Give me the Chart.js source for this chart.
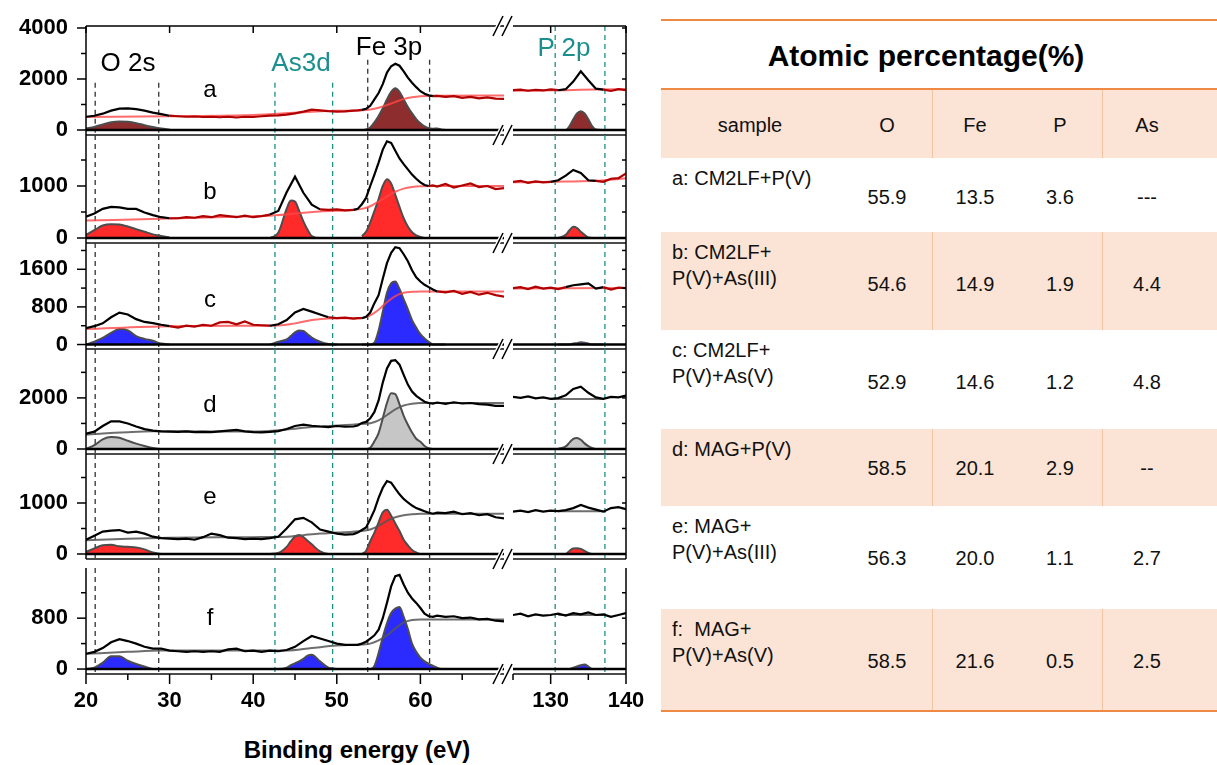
<!DOCTYPE html>
<html>
<head>
<meta charset="utf-8">
<script src="https://cdn.jsdelivr.net/npm/chart.js@4.4.1/dist/chart.umd.min.js"></script>
<style>
  body { margin: 0; background: #fff; width: 1217px; height: 765px; overflow: hidden; position: relative;
         font-family: 'Liberation Sans', Arial, sans-serif; color: #000; }
  canvas { position: absolute; }
  .lbl { position: absolute; transform: translate(-50%, -50%); line-height: 1; white-space: pre; }
  .box { position: absolute; }
  .cell { position: absolute; line-height: 1; white-space: pre; font-size: 20px; color: #111; }
</style>
</head>
<body>
<script>
// ---- data ----
const X_LEFT = [20,21,22,23,24,25,26,27,28,29,30,31,32,33,34,35,36,37,38,39,40,41,42,43,44,45,46,47,48,49,50,51,52,
  52.5,53,53.5,54,54.5,55,55.5,56,56.5,57,57.5,58,58.5,59,59.5,60,60.5,61,61.5,62,
  63,64,65,66,67,68,69,70];
const X_RIGHT = [125,126,127,128,129,130,131,132,133,134,135,136,137,138,139,140];

// raw spectra (counts)
const RAW_A = [520,560,640,760,840,850,820,760,680,620,560,540,520,530,510,520,500,520,490,520,510,540,560,570,600,650,720,800,770,740,720,730,760,
  770,790,830,950,1200,1450,1800,2250,2500,2600,2520,2300,2050,1850,1680,1520,1420,1360,1330,1340,
  1300,1330,1260,1300,1240,1280,1230,1220];
const RAW_B = [410,470,560,600,590,560,560,490,440,400,380,380,400,390,420,400,440,420,400,430,400,420,450,520,880,1180,870,640,550,540,550,530,540,
  560,650,770,1000,1220,1450,1700,1860,1830,1680,1530,1420,1320,1220,1140,1070,1020,1000,1010,990,
  1040,970,1010,1050,980,1000,940,960];
const RAW_C = [350,390,450,580,680,640,540,480,455,420,390,360,400,380,420,400,470,480,430,490,420,410,400,430,520,680,755,700,640,580,560,570,550,
  560,560,590,680,880,1050,1400,1730,1950,2070,2050,1920,1770,1580,1430,1340,1270,1220,1170,1130,
  1110,1140,1080,1120,1060,1100,1050,1020];
const RAW_D = [600,680,900,1080,1080,1000,880,780,720,690,680,670,690,660,670,660,690,720,750,690,660,650,670,700,780,900,950,910,880,860,900,870,880,
  920,1020,1060,1200,1450,1900,2600,3150,3450,3480,3300,2900,2520,2250,2080,1960,1850,1800,1780,1820,
  1770,1830,1780,1800,1760,1740,1690,1690];
const RAW_E = [280,360,440,460,470,420,440,400,340,310,300,290,300,280,330,400,370,320,310,290,300,290,310,340,500,680,710,620,480,440,400,380,390,
  420,470,520,680,860,1100,1300,1430,1400,1280,1170,1080,1010,950,900,870,840,810,790,810,
  800,830,780,800,760,780,720,700];
const RAW_F = [240,270,330,420,470,440,400,350,320,320,290,280,270,280,270,280,270,310,320,280,290,270,290,280,300,350,440,520,480,440,400,380,380,
  380,400,430,480,530,620,800,1040,1300,1460,1480,1330,1200,1110,1040,960,870,830,820,840,
  820,830,800,810,780,790,760,750];

const RAW_A_P = [1560,1580,1540,1570,1550,1590,1560,1600,1900,2300,1950,1620,1580,1530,1600,1560];
const RAW_B_P = [1080,1100,1060,1090,1070,1080,1110,1200,1310,1250,1110,1100,1080,1140,1150,1240];
const RAW_C_P = [1200,1220,1180,1230,1190,1210,1180,1220,1260,1280,1300,1190,1220,1170,1210,1200];
const RAW_D_P = [2040,2000,2060,1980,2020,1960,1990,2100,2350,2440,2200,2020,1960,2040,2020,2090];
const RAW_E_P = [830,850,820,860,830,850,840,860,900,960,910,870,830,900,920,880];
const RAW_F_P = [850,870,830,860,840,850,870,840,880,860,890,850,860,820,850,880];

// Shirley backgrounds
const BG_A_X = [20,30,40,46,50,53,54,55,56,57,58,59,60,62,70];
const BG_A   = [510,540,590,700,750,770,800,870,980,1100,1210,1280,1320,1340,1350];
const BG_B_X = [20,30,40,42,48,52,53,54,55,56,57,58,59,60,62,70];
const BG_B   = [335,375,420,430,510,540,560,610,700,800,890,950,980,995,1000,1000];
const BG_C_X = [20,30,40,43,45,47,49,53,54,55,56,57,58,59,60,62,70];
const BG_C   = [330,390,400,405,450,520,555,565,620,740,900,1030,1100,1120,1128,1130,1130];
const BG_D_X = [20,22,25,28,30,40,44,47,53,54,55,56,57,58,59,60,61,70];
const BG_D   = [560,610,660,690,690,680,760,860,980,1010,1120,1330,1550,1700,1770,1800,1800,1800];
const BG_E_X = [20,25,30,40,44,46,48,50,53,54,55,56,57,58,59,60,62,70];
const BG_E   = [270,300,320,330,340,370,400,420,450,480,550,650,720,760,780,790,790,790];
const BG_F_X = [20,25,29,44,47,50,53,54,55,56,57,58,59,60,62,70];
const BG_F   = [240,270,290,290,330,370,385,400,450,530,640,730,770,780,780,780];

const BG_A_P_X = [125,132,136,140]; const BG_A_P = [1540,1560,1590,1600];
const BG_B_P_X = [125,132,136,140]; const BG_B_P = [1070,1085,1100,1150];
const BG_C_P_X = [125,140];         const BG_C_P = [1190,1200];
const BG_D_P_X = [130,137];         const BG_D_P = [1960,1960];
const BG_E_P_X = [131,137];         const BG_E_P = [840,840];
const BG_F_P_X = [131,137];         const BG_F_P = [850,850];

// fitted components
const X_O2S  = [20,21,22,23,24,25,26,27,28,29,30];
const X_AS3D = [42,43,44,44.5,45,45.5,46,46.5,47,48,49,50];
const X_FE3P = [53,53.5,54,54.5,55,55.5,56,56.5,57,57.5,58,58.5,59,59.5,60,60.5,61,61.5,62,62.5,63];
const X_P2P  = [131,132,132.5,133,133.5,134,134.5,135,135.5,136,137];

const O2S_A = [60,120,220,300,330,320,270,190,120,60,20];
const O2S_B = [60,150,240,265,260,220,170,120,70,40,10];
const O2S_C = [0,60,140,250,330,300,180,120,80,20,0];
const O2S_D = [0,150,380,470,440,320,210,120,40,0,0];
const O2S_E = [40,110,170,180,150,140,130,90,30,0,0];
const O2S_F = [0,20,100,200,200,130,80,40,0,0,0];

const AS3D_B = [0,100,560,720,700,520,320,160,40,0,0,0];
const AS3D_C = [0,60,110,180,260,300,290,220,150,60,10,0];
const AS3D_E = [0,20,140,250,340,375,330,260,190,50,0,0];
const AS3D_F = [0,0,20,60,90,120,160,210,225,120,20,0];

const FE3P_A = [0,20,100,300,550,850,1200,1500,1640,1500,1200,900,650,430,260,140,70,50,60,20,0];
const FE3P_B = [40,120,300,520,750,1000,1130,1050,830,600,380,220,110,50,20,0,0,0,0,0,0];
const FE3P_C = [0,0,0,40,300,700,1100,1300,1340,1180,960,750,520,360,220,130,60,0,0,0,0];
const FE3P_D = [0,0,50,300,620,1200,1800,2180,2150,1750,1300,950,650,400,280,120,30,0,0,0,0];
const FE3P_E = [0,60,250,420,620,820,870,750,600,450,280,170,80,30,0,0,0,0,0,0,0];
const FE3P_F = [0,0,0,50,250,500,720,880,950,975,820,630,400,270,180,120,80,50,20,0,0];

const P2P_A = [0,0,150,420,650,740,650,420,150,20,0];
const P2P_B = [0,60,150,215,190,120,60,10,0,0,0];
const P2P_C = [0,0,0,20,30,50,40,20,0,0,0];
const P2P_D = [0,100,250,400,430,360,220,110,40,0,0];
const P2P_E = [0,0,60,110,115,100,60,20,0,0,0];
const P2P_F = [0,0,0,20,40,60,70,40,0,0,0];

// where the fitted envelope (black) is drawn over the raw data (a-c)
const ENV_A = [[20,30],[53,61.5],[131.5,136.5]];
const ENV_B = [[20,29.5],[42,48],[52,61],[130,135.5]];
const ENV_C = [[20,29.5],[42.5,48.5],[53,62],[132,136.5]];

// axes
const Y_MIN = [-196,-96,-95,-196,-98,-78];
const Y_MAX = [4078,1981,2159,3914,1961,1589];
const Y_MAJOR = [[0,2000,4000],[0,1000],[0,800,1600],[0,2000],[0,1000],[0,800]];
const Y_MINOR = [[1000,3000],[500,1500],[400,1200,2000],[1000,3000],[500,1500],[400,1200]];
const X_MAJOR_L = [20,30,40,50,60];
const X_MINOR_L = [25,35,45,55,65];
const X_MAJOR_R = [130,140];
const X_MINOR_R = [125,135];
const VLINE_L = [21.1,28.7,42.6,49.5,53.7,61.1];
const VLINE_R = [130.6,137.2];
const VLINE_TOP_A_L = [1850,1850,1850,1850,2750,2750];

// table
const COLUMNS = ['sample','O','Fe','P','As'];
const SAMPLES = [['a: CM2LF+P(V)'],['b: CM2LF+','P(V)+As(III)'],['c: CM2LF+','P(V)+As(V)'],
  ['d: MAG+P(V)'],['e: MAG+','P(V)+As(III)'],['f:  MAG+','P(V)+As(V)']];
const O_PCT  = [55.9,54.6,52.9,58.5,56.3,58.5];
const FE_PCT = [13.5,14.9,14.6,20.1,20.0,21.6];
const P_PCT  = [3.6,1.9,1.2,2.9,1.1,0.5];
const AS_PCT = ['---',4.4,4.8,'--',2.7,2.5];

// ---- layout / style ----
const FONT = "'Liberation Sans', Arial, sans-serif";
const TEAL = '#1b8f8d';
const PANEL_TOP = [26,135,243,349,454,568];
const PANEL_BOTTOM = [135,243,349,454,559,674];
const PAD = 14, XH = 46;

const RAWS = [RAW_A,RAW_B,RAW_C,RAW_D,RAW_E,RAW_F];
const RAWS_P = [RAW_A_P,RAW_B_P,RAW_C_P,RAW_D_P,RAW_E_P,RAW_F_P];
const BGS = [[BG_A_X,BG_A],[BG_B_X,BG_B],[BG_C_X,BG_C],[BG_D_X,BG_D],[BG_E_X,BG_E],[BG_F_X,BG_F]];
const BGS_P = [[BG_A_P_X,BG_A_P],[BG_B_P_X,BG_B_P],[BG_C_P_X,BG_C_P],[BG_D_P_X,BG_D_P],[BG_E_P_X,BG_E_P],[BG_F_P_X,BG_F_P]];
const O2S = [O2S_A,O2S_B,O2S_C,O2S_D,O2S_E,O2S_F];
const AS3D = [null,AS3D_B,AS3D_C,null,AS3D_E,AS3D_F];
const FE3P = [FE3P_A,FE3P_B,FE3P_C,FE3P_D,FE3P_E,FE3P_F];
const P2P = [P2P_A,P2P_B,P2P_C,P2P_D,P2P_E,P2P_F];
const ENVS = [ENV_A,ENV_B,ENV_C,null,null,null];
const FILLS = ['#8e2d2d','#ff2b2b','#2b2bff','#c6c6c6','#ff2b2b','#2b2bff'];
const LETTERS = ['a','b','c','d','e','f'];
const LETTER_Y = [89,191,299,404,496,617];

function pts(xs, ys) { return xs.map((x, k) => ({ x, y: ys[k] })); }
function regions(list) {
  const out = [];
  list.forEach(([xs, ys]) => {
    if (!ys) return;
    if (out.length) out.push({ x: xs[0] - 0.01, y: null });
    out.push(...pts(xs, ys));
  });
  return out;
}
function inRanges(v, r) { return r.some(([a, b]) => v >= a && v <= b); }

// drop the label-overhang padding Chart.js adds, so the plot box sits exactly where we put it
function fitScale(s, size, horizontal) {
  if (horizontal) s.height = size; else s.width = size;
  s.paddingTop = 0; s.paddingBottom = 0; s.paddingLeft = 0; s.paddingRight = 0;
}

const framePlugin = {
  id: 'frame',
  beforeDatasetsDraw(chart, args, o) {
    const { ctx, chartArea: a, scales: { x, y } } = chart;
    ctx.save();
    ctx.lineWidth = 1.3;
    ctx.setLineDash([5, 4]);
    o.vlines.forEach((v, k) => {
      const px = x.getPixelForValue(v.x);
      const top = o.vtop && o.vtop[k] != null ? y.getPixelForValue(o.vtop[k]) : a.top;
      ctx.strokeStyle = v.c;
      ctx.beginPath(); ctx.moveTo(px, top); ctx.lineTo(px, a.bottom); ctx.stroke();
    });
    ctx.restore();
  },
  afterDraw(chart, args, o) {
    const { ctx, chartArea: a, scales: { x, y } } = chart;
    const line = (x1, y1, x2, y2) => { ctx.beginPath(); ctx.moveTo(x1, y1); ctx.lineTo(x2, y2); ctx.stroke(); };
    ctx.save();
    ctx.setLineDash([]);
    ctx.strokeStyle = '#000';
    const y0 = y.getPixelForValue(0);
    ctx.lineWidth = 2.6;
    line(a.left, y0, a.right, y0);
    ctx.lineWidth = 1.4;
    ctx.strokeStyle = '#111';
    line(a.left, a.bottom, a.right, a.bottom);
    ctx.strokeStyle = '#000';
    ctx.lineWidth = 1.5;
    if (o.side === 'left') {
      line(a.left, a.top, a.left, a.bottom);
      o.yMajor.forEach(v => { const p = y.getPixelForValue(v); line(a.left - 9, p, a.left, p); });
      o.yMinor.forEach(v => { const p = y.getPixelForValue(v); line(a.left - 5, p, a.left, p); });
    } else {
      line(a.right, a.top, a.right, a.bottom);
      o.yMinor.concat(o.yMajor).forEach(v => { const p = y.getPixelForValue(v); if (v !== 0) line(a.right - 4, p, a.right, p); });
    }
    if (o.top) {
      line(a.left, a.top, a.right, a.top);
      o.xMajor.forEach(v => { const p = x.getPixelForValue(v); line(p, a.top, p, a.top + 7); });
    }
    if (o.xAxis) {
      o.xMajor.forEach(v => { const p = x.getPixelForValue(v); line(p, a.bottom, p, a.bottom + 10); });
      o.xMinor.forEach(v => { const p = x.getPixelForValue(v); line(p, a.bottom, p, a.bottom + 6); });
    }
    if (o.breaks) {
      const ys = o.top ? [a.top, a.bottom] : [a.bottom];
      ys.forEach(yy => {
        [a.left - 15, a.left - 6].forEach(bx => {
          ctx.strokeStyle = '#fff'; ctx.lineWidth = 4;
          line(bx - 5, yy + 10, bx + 5, yy - 10);
          ctx.strokeStyle = '#000'; ctx.lineWidth = 1.6;
          line(bx - 5, yy + 10, bx + 5, yy - 10);
        });
      });
    }
    ctx.restore();
  }
};

function addCanvas(left, top, w, h) {
  const c = document.createElement('canvas');
  c.width = w; c.height = h;
  c.style.left = left + 'px'; c.style.top = top + 'px';
  c.style.width = w + 'px'; c.style.height = h + 'px';
  document.body.appendChild(c);
  return c;
}

function tickFont() { return { family: FONT, size: 22, weight: 'bold' }; }

function buildPanel(i, side) {
  const last = i === 5;
  const top = PANEL_TOP[i], bottom = PANEL_BOTTOM[i];
  const h = bottom - top + PAD + (last ? XH + 4 : PAD);
  const left = side === 'left';
  const canvas = left ? addCanvas(0, top - PAD, 520, h) : addCanvas(490, top - PAD, 160, h);
  const colored = !!ENVS[i];
  const darkRed = '#b00000';

  const rawData = left ? pts(X_LEFT, RAWS[i]) : pts(X_RIGHT, RAWS_P[i]);
  const bgSrc = left ? BGS[i] : BGS_P[i];
  const compData = left ? regions([[X_O2S, O2S[i]], [X_AS3D, AS3D[i]], [X_FE3P, FE3P[i]]]) : pts(X_P2P, P2P[i]);

  const datasets = [
    {
      data: rawData, order: 0, borderWidth: 2.2, pointRadius: 0, tension: 0,
      borderColor: colored ? darkRed : '#000',
      segment: colored ? { borderColor: c => inRanges((c.p0.parsed.x + c.p1.parsed.x) / 2, ENVS[i]) ? '#000' : darkRed } : undefined
    },
    {
      data: pts(bgSrc[0], bgSrc[1]), order: 1, borderWidth: 2, pointRadius: 0,
      cubicInterpolationMode: 'monotone',
      borderColor: colored ? 'rgba(255,70,70,0.8)' : 'rgba(85,85,85,0.85)'
    },
    {
      data: compData, order: 2, borderWidth: 2, pointRadius: 0,
      cubicInterpolationMode: 'monotone', borderColor: '#4d4d4d',
      backgroundColor: FILLS[i], fill: 'origin', spanGaps: false
    }
  ];

  const xMajor = left ? X_MAJOR_L : X_MAJOR_R;
  const xMinor = left ? X_MINOR_L : X_MINOR_R;
  const allX = xMajor.concat(xMinor).sort((p, q) => p - q);
  const allY = Y_MAJOR[i].concat(Y_MINOR[i]).sort((p, q) => p - q);

  new Chart(canvas, {
    type: 'line',
    data: { datasets },
    options: {
      responsive: false, animation: false, devicePixelRatio: 1, events: [],
      layout: { padding: left
        ? { left: 0, right: 16, top: PAD, bottom: last ? 4 : PAD }
        : { left: 23, right: 24, top: PAD, bottom: last ? 4 : PAD } },
      scales: {
        x: {
          type: 'linear', min: left ? 20 : 125, max: left ? 70 : 140, display: last,
          afterFit: s => fitScale(s, last ? XH : 0, true),
          afterBuildTicks: s => { s.ticks = allX.map(v => ({ value: v })); },
          ticks: { autoSkip: false, maxRotation: 0, padding: 14, color: '#000', font: tickFont(),
                   callback: v => xMajor.includes(v) ? String(v) : '' },
          grid: { display: false, drawTicks: false }, border: { display: false }
        },
        y: {
          type: 'linear', min: Y_MIN[i], max: Y_MAX[i], display: left,
          afterFit: s => fitScale(s, left ? 86 : 0, false),
          afterBuildTicks: s => { s.ticks = allY.map(v => ({ value: v })); },
          ticks: { autoSkip: false, padding: 18, color: '#000', font: tickFont(),
                   callback: v => Y_MAJOR[i].includes(v) ? String(v) : '' },
          grid: { display: false, drawTicks: false }, border: { display: false }
        }
      },
      plugins: {
        legend: { display: false }, tooltip: { enabled: false },
        frame: {
          side, top: i === 0, xAxis: last, breaks: !left,
          xMajor, xMinor, yMajor: Y_MAJOR[i], yMinor: Y_MINOR[i],
          vlines: left
            ? VLINE_L.map((x, k) => ({ x, c: (k === 2 || k === 3) ? TEAL : '#333' }))
            : VLINE_R.map(x => ({ x, c: TEAL })),
          vtop: i === 0 ? (left ? VLINE_TOP_A_L : null) : null
        }
      }
    },
    plugins: [framePlugin]
  });
}

function addLabel(text, x, y, size, opts) {
  const d = document.createElement('div');
  d.className = 'lbl';
  d.textContent = text;
  d.style.left = x + 'px'; d.style.top = y + 'px';
  d.style.fontSize = size + 'px';
  if (opts && opts.bold) d.style.fontWeight = 'bold';
  if (opts && opts.color) d.style.color = opts.color;
  document.body.appendChild(d);
}

function addBox(x, y, w, h, bg) {
  const d = document.createElement('div');
  d.className = 'box';
  d.style.left = x + 'px'; d.style.top = y + 'px';
  d.style.width = w + 'px'; d.style.height = h + 'px';
  d.style.background = bg;
  document.body.appendChild(d);
}

function addCell(text, x, y, align) {
  const d = document.createElement('div');
  d.className = 'cell';
  d.textContent = text;
  d.style.top = y + 'px';
  d.style.left = x + 'px';
  d.style.transform = align === 'center' ? 'translate(-50%, -50%)' : 'translate(0, -50%)';
  document.body.appendChild(d);
}

function buildTable() {
  const L = 661, W = 556;
  const ROW_Y = [158, 232, 330, 429, 506, 609, 711];
  const COL_X = [750, 887, 975, 1060, 1147];
  const DIV_X = [932, 1102];
  const PEACH = '#fbe4d5', ORANGE = '#ef8a45', DIV = '#f2c4a2';

  addBox(L, 89, W, 69, PEACH);
  DIV_X.forEach(x => addBox(x, 89, 1, 69, DIV));
  for (let r = 0; r < 6; r++) {
    if (r % 2 === 1) {
      addBox(L, ROW_Y[r], W, ROW_Y[r + 1] - ROW_Y[r], PEACH);
      DIV_X.forEach(x => addBox(x, ROW_Y[r], 1, ROW_Y[r + 1] - ROW_Y[r], DIV));
    }
  }
  addBox(L, 19, W, 2, ORANGE);
  addBox(L, 88, W, 2, ORANGE);
  addBox(L, 710, W, 2, ORANGE);

  addLabel('Atomic percentage(%)', 926, 56, 30, { bold: true });
  COLUMNS.forEach((c, k) => addCell(c, COL_X[k], 125, 'center'));

  for (let r = 0; r < 6; r++) {
    const t = ROW_Y[r];
    SAMPLES[r].forEach((s, k) => addCell(s, 672, t + 20 + k * 26, 'left'));
    const ny = t + (SAMPLES[r].length > 1 ? 52 : 39);
    [O_PCT[r], FE_PCT[r], P_PCT[r], AS_PCT[r]].forEach((v, k) => {
      addCell(typeof v === 'number' ? v.toFixed(1) : v, COL_X[k + 1], ny, 'center');
    });
  }
}

window.addEventListener('load', () => {
  for (let i = 0; i < 6; i++) { buildPanel(i, 'left'); buildPanel(i, 'right'); }
  LETTERS.forEach((l, i) => addLabel(l, 210, LETTER_Y[i], 24));
  addLabel('O 2s', 128, 62, 26);
  addLabel('As3d', 301, 62, 26, { color: TEAL });
  addLabel('Fe 3p', 389, 46, 26);
  addLabel('P 2p', 564, 47, 26, { color: TEAL });
  addLabel('Binding energy (eV)', 357, 750, 24, { bold: true });
  buildTable();
});
</script>
</body>
</html>
